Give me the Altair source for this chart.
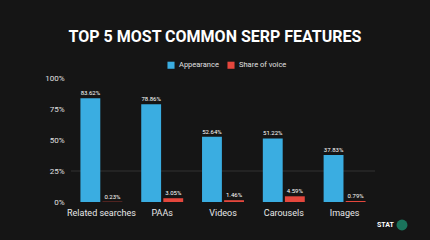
import altair as alt
import pandas as pd

categories = ["Related searches", "PAAs", "Videos", "Carousels", "Images"]
appearance = [83.62, 78.86, 52.64, 51.22, 37.83]
share_of_voice = [0.23, 3.05, 1.46, 4.59, 0.79]
series = ["Appearance", "Share of voice"]
colors = ["#3aade1", "#e4473d"]
y_ticks = [0, 25, 50, 75, 100]
grid_values = [25]

rows = []
for c, a, s in zip(categories, appearance, share_of_voice):
    rows.append({"cat": c, "series": series[0], "value": a, "label": f"{a:.2f}%"})
    rows.append({"cat": c, "series": series[1], "value": s, "label": f"{s:.2f}%"})
df = pd.DataFrame(rows)

FONT = "Roboto"

x_enc = alt.X(
    "cat:N", sort=categories,
    scale=alt.Scale(paddingInner=0.31, paddingOuter=0.155),
    axis=alt.Axis(title=None, labelAngle=0, domain=False, ticks=False,
                  labelColor="#e8e8e8", labelFontSize=9, labelPadding=6, labelFont=FONT),
)
xoff_enc = alt.XOffset("series:N", sort=series, scale=alt.Scale(paddingInner=0.1, paddingOuter=0))
y_axis = alt.Axis(values=y_ticks, labelExpr="datum.value + '%'", title=None, domain=False,
                  ticks=False, grid=False, labelColor="#e0e0e0", labelFontSize=8,
                  labelPadding=7, labelFont=FONT, labelOverlap=False)
y_scale = alt.Scale(domain=[0, 100], nice=False)
y_enc = alt.Y("value:Q", scale=y_scale, axis=y_axis)

grid = alt.Chart(pd.DataFrame({"v": grid_values})).mark_rule(color="#333333", strokeWidth=1).encode(
    y=alt.Y("v:Q", scale=y_scale, axis=y_axis)
)

bars = alt.Chart(df).mark_bar().encode(
    x=x_enc, xOffset=xoff_enc, y=y_enc,
    color=alt.Color("series:N", sort=series, scale=alt.Scale(domain=series, range=colors),
                    legend=alt.Legend(title=None, orient="none", legendX=96, legendY=-17,
                                      direction="horizontal", symbolType="square",
                                      symbolSize=50, symbolStrokeWidth=0,
                                      labelColor="#e0e0e0", labelFontSize=7.5, labelFont=FONT,
                                      labelOffset=4, columnPadding=8)),
)

labels = alt.Chart(df).mark_text(baseline="bottom", dy=-2, fontSize=6, color="white", font=FONT).encode(
    x=x_enc, xOffset=xoff_enc, y=y_enc, text="label:N"
)

logo_text = alt.Chart(pd.DataFrame({"t": ["STAT"]})).mark_text(
    fontSize=7, fontWeight="bold", color="white", font=FONT, align="left", baseline="middle"
).encode(x=alt.value(306), y=alt.value(147), text="t:N")
logo_dot = alt.Chart(pd.DataFrame({"t": ["STAT"]})).mark_point(
    filled=True, size=120, color="#1b7d63", opacity=0.9
).encode(x=alt.value(331), y=alt.value(147))

chart = alt.layer(grid, bars, labels, logo_text, logo_dot).properties(
    width=304, height=124,
    title=alt.TitleParams("TOP 5 MOST COMMON SERP FEATURES", fontSize=16, font=FONT,
                          fontWeight="bold", color="white", anchor="middle", dx=-8, offset=16),
    autosize=alt.AutoSizeParams(type="none"),
    padding={"left": 71, "top": 78, "right": 55, "bottom": 38},
).configure(background="#151515").configure_view(stroke=None)

chart.save("out.html", embed_options={"renderer": "svg", "actions": False})
